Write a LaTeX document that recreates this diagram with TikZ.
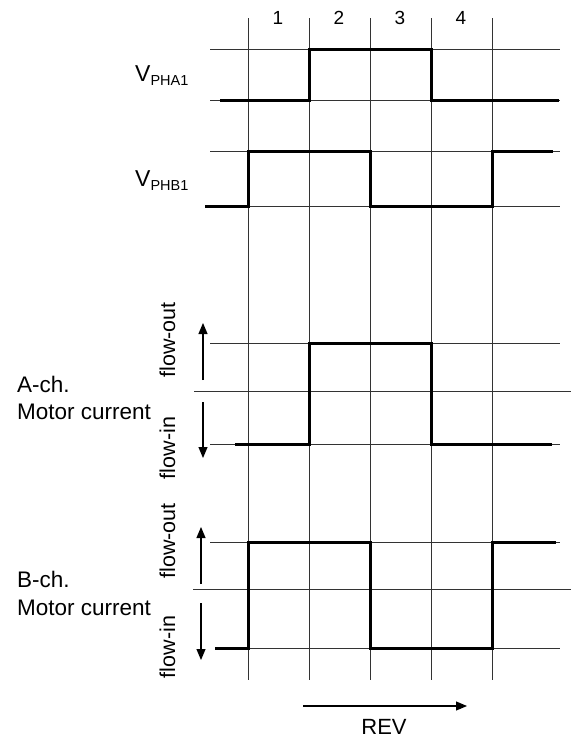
\documentclass[tikz,border=0pt]{standalone}
\usepackage{fontspec}
\setmainfont{Liberation Sans}
\usetikzlibrary{arrows.meta}
\begin{document}
\begin{tikzpicture}
[x=1pt,y=-1pt,
  griddecorate/.style={-,line width=1pt,black!80},%
  wavedecorate/.style={-,line width=3pt,black},%
  arrowdecorate/.style={-{Triangle[length=11pt,width=9pt]},line width=1.1pt},%
  textdecorate/.style={inner sep=0pt,font=\fontsize{22.5}{27}\selectfont}]
\useasboundingbox (0,0) rectangle (571,740);
%% vertical grid lines
\foreach \x in {248,309,370,431,492} {
  \draw[griddecorate] (\x,18) -- (\x,680);
}
%% horizontal grid lines
\foreach \y/\xa/\xb in {49/210/560, 100/210/560, 151/210/560, 206/205/560,
  343/210/560, 391/194/571, 444/210/560, 542/210/560, 589/193/571, 648/215/560} {
  \draw[griddecorate] (\xa,\y) -- (\xb,\y);
}
%% step numbers
\foreach \nodename/\x in {1/278, 2/339, 3/400, 4/461} {
  \node (step\nodename) at (\x,24.5) [textdecorate,anchor=base,font=\fontsize{19}{22}\selectfont] {\nodename};
}
%% waveforms
\draw[wavedecorate] (220,100) -| (309,49) -| (431,100) -- (559,100);
\draw[wavedecorate] (205,206) -| (248,151) -| (370,206) -| (492,151) -- (553,151);
\draw[wavedecorate] (235,444) -| (309,343) -| (431,444) -- (552,444);
\draw[wavedecorate] (215,648) -| (248,542) -| (370,648) -| (492,542) -- (556,542);
%% signal names
\foreach \nodename/\y/\sub in {pha/81.5/PHA1, phb/186/PHB1} {
  \node (\nodename) at (135,\y) [textdecorate,anchor=base west,font=\fontsize{23}{26}\selectfont]
    {V\raisebox{-4pt}{\fontsize{14.5}{16}\selectfont\sub}};
}
\foreach \nodename/\y/\text in {ach/392/A-ch., amotor/419/Motor current,
  bch/587/B-ch., bmotor/615/Motor current} {
  \node (\nodename) at (17,\y) [textdecorate,anchor=base west] {\text};
}
%% flow directions
\foreach \nodename/\y/\text in {aout/340/flow-out, ain/448/flow-in,
  bout/541/flow-out, bin/647/flow-in} {
  \node (\nodename) at (175,\y) [textdecorate,rotate=90,anchor=base,font=\fontsize{21.5}{26}\selectfont] {\text};
}
\foreach \name/\x/\ya/\yb in {aup/203/380/323, adown/203/402/458,
  bup/201/584/527, bdown/201/603/660} {
  \coordinate (\name s) at (\x,\ya);
  \coordinate (\name e) at (\x,\yb);
  \draw[arrowdecorate] (\name s) -- (\name e);
}
%% rotation
\coordinate (revs) at (303,706);
\coordinate (reve) at (467,706);
\draw[arrowdecorate] (revs) -- (reve);
\node (rev) at (384,734) [textdecorate,anchor=base,font=\fontsize{22}{24}\selectfont] {REV};
\end{tikzpicture}
\end{document}
